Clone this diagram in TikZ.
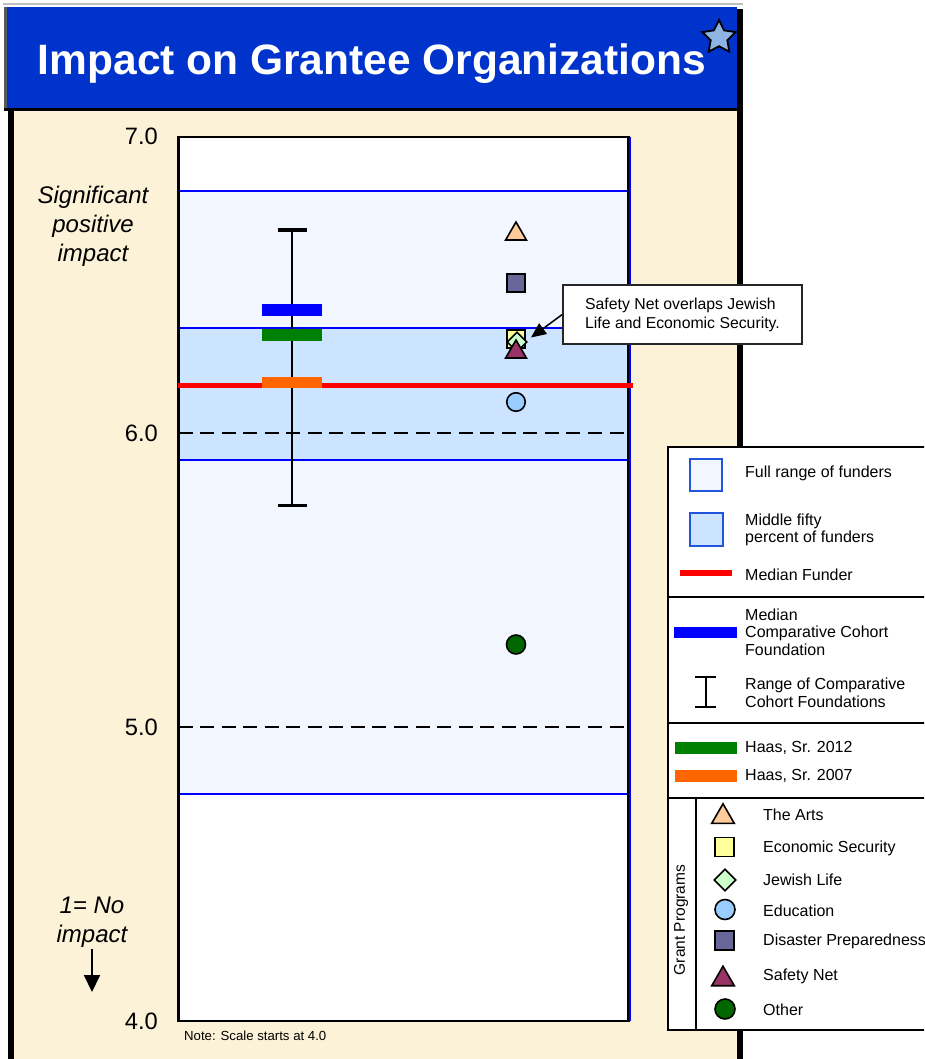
\documentclass[tikz,border=0pt]{standalone}
\usepackage{fontspec}
\setmainfont{Liberation Sans}
\usetikzlibrary{shapes.geometric,arrows.meta}
\definecolor{titleblue}{HTML}{0033CC}
\definecolor{beige}{HTML}{FCF2D8}
\definecolor{fullfill}{HTML}{F2F7FF}
\definecolor{midfill}{HTML}{CCE4FF}
\definecolor{bandblue}{HTML}{0000FF}
\definecolor{legblue}{HTML}{2255DD}
\definecolor{cgreen}{HTML}{008000}
\definecolor{corange}{HTML}{FF6600}
\definecolor{arts}{HTML}{FFCC99}
\definecolor{econ}{HTML}{FFFF99}
\definecolor{jewish}{HTML}{CCFFCC}
\definecolor{educ}{HTML}{99CCFF}
\definecolor{disaster}{HTML}{666699}
\definecolor{safety}{HTML}{993366}
\definecolor{other}{HTML}{006600}
\definecolor{starblue}{HTML}{8DB4E2}
\newcommand{\setfs}[2]{\fontsize{#1}{#2}\selectfont}
\tikzset{
  mk/.style={draw=black, line width=1.6pt, inner sep=0pt},
  tri/.style={mk, regular polygon, regular polygon sides=3, minimum size=#1},
  sq/.style={mk, rectangle, minimum size=#1},
  dia/.style={mk, diamond, minimum size=#1},
  circ/.style={mk, circle, minimum size=#1},
  barbox/.style={rectangle, draw=none, inner sep=0pt, minimum width=60pt, minimum height=11.5pt},
  legtext/.style={anchor=west, inner sep=0pt, align=left, font=\setfs{16}{17.5}},
  axlabel/.style={anchor=east, inner sep=0pt, font=\setfs{23.7}{28}},
  sidetext/.style={align=center, inner sep=0pt, font=\setfs{24}{29}\itshape},
  bandline/.style={bandblue, line width=2pt},
  gridline/.style={black, line width=2pt, dash pattern=on 14pt off 7.55pt},
  calloutbox/.style={draw=black!85, line width=1.5pt, fill=white, align=left, minimum width=239pt, minimum height=59pt, inner xsep=8pt, font=\setfs{15.8}{19}},
  legsq/.style={draw=legblue, line width=2pt, inner sep=0pt, minimum size=#1},
}
\begin{document}
\begin{tikzpicture}[x=1pt,y=-1pt]
\useasboundingbox (0,0) rectangle (924,1059);
\clip (0,0) rectangle (924,1059);
\fill[white] (0,0) rectangle (924,1059);

% ---- outer frame and title band
\fill[black!25] (3,3) rectangle (743,5);
\fill[titleblue] (5,7) rectangle (737,109);
\fill[black!65] (4,7) rectangle (6.5,110);
\fill[black] (4,108) rectangle (737,111.5);
\fill[beige] (14,111.5) rectangle (737,1059);
\fill[black] (8,111) rectangle (14,1059);
\fill[black] (737,9) rectangle (743,1059);
\node[anchor=base, inner sep=0pt, text=white, font=\setfs{42.5}{50}\bfseries] (title) at (372,75) {Impact on Grantee Organizations};
\node[star, star points=5, star point ratio=2.0, minimum size=35pt, inner sep=0pt, fill=starblue, draw=black, line width=1.8pt] (star) at (719,37.5) {};

% ---- plot area
\fill[white] (178,137) rectangle (630,1021);
\fill[fullfill] (178,191) rectangle (630,794);
\fill[midfill] (178,328) rectangle (630,460);
\draw[bandline] (178,191) -- (630,191);
\draw[bandline] (178,328) -- (630,328);
\draw[bandline] (178,460) -- (630,460);
\draw[bandline] (178,794) -- (630,794);
\draw[gridline] (178.5,433) -- (627,433);
\draw[gridline] (178.5,727) -- (627,727);
\draw[black, line width=2.5pt] (178.5,137) rectangle (628.5,1021);
\draw[bandblue, line width=2pt] (630,137) -- (630,1021);

% axis labels
\node[axlabel] (l7) at (158,136.5) {7.0};
\node[axlabel] (l6) at (158,433) {6.0};
\node[axlabel] (l5) at (158,727) {5.0};
\node[axlabel] (l4) at (158,1021) {4.0};
\node[sidetext] (sig) at (93,226) {Significant\\positive\\impact};
\node[sidetext] (noimpact) at (92,922.5) {1= No\\impact};
\coordinate (arrtop) at (92,949);
\coordinate (arrbot) at (92,992);
\draw[line width=2pt, -{Triangle[length=17pt,width=16pt]}] (arrtop) -- (arrbot);
\node[anchor=west, inner sep=0pt, font=\setfs{13.2}{15}] (scalenote) at (184,1035.5) {Note: Scale starts at 4.0};

% median funder line
\draw[red, line width=5pt] (178,385) -- (633,385);

% range of comparative cohort
\coordinate (rtop) at (292,230);
\coordinate (rbot) at (292,505.5);
\draw[black, line width=2pt] (rtop) -- (rbot);
\draw[black, line width=3.2pt] (277.5,230) -- (306.5,230);
\draw[black, line width=3.2pt] (277.5,505.5) -- (306.5,505.5);
\node[barbox, fill=bandblue] (cohortmed) at (292,310) {};
\node[barbox, fill=cgreen] (haas12) at (292,335) {};
\node[barbox, fill=corange] (haas07) at (292,382.5) {};

% grant program markers
\node[tri=24pt, fill=arts] (partsm) at (516,234) {};
\node[sq=18pt, fill=disaster] (pdis) at (516,283) {};
\node[sq=18pt, fill=econ] (pecon) at (516,339) {};
\node[dia=20pt, fill=jewish] (pjew) at (517,342) {};
\node[tri=24pt, fill=safety] (psafe) at (516,352) {};
\node[circ=18.5pt, fill=educ] (pedu) at (516,402) {};
\node[circ=19pt, fill=other] (poth) at (516,644.5) {};

% callout
\node[calloutbox] (note) at (682.5,314.5) {Safety Net overlaps Jewish\\Life and Economic Security.};
\coordinate (notetip) at (531,337.5);
\draw[black, line width=1.5pt, -{Triangle[length=15pt,width=13pt]}] (note.west) -- (notetip);

% ---- legend
\draw[black, line width=2pt, fill=white] (668,447) rectangle (940,1030);
\draw[black, line width=2pt] (668,597) -- (940,597);
\draw[black, line width=2pt] (668,722.5) -- (940,722.5);
\draw[black, line width=2pt] (668,798) -- (940,798);
\draw[black, line width=2pt] (696,798) -- (696,1030);

\node[legsq=32pt, fill=fullfill] (lfull) at (706,475) {};
\node[legtext] (tfull) at (745,473.5) {Full range of funders};
\node[legsq=33pt, fill=midfill] (lmid) at (706,529.5) {};
\node[legtext] (tmid) at (745,530) {Middle fifty\\percent of funders};
\coordinate (lreda) at (680,573);
\coordinate (lredb) at (732,573);
\draw[red, line width=6pt] (lreda) -- (lredb);
\node[legtext] (tred) at (745,574.5) {Median Funder};

\node[barbox, fill=bandblue, minimum width=63pt, minimum height=11pt] (lblue) at (705.5,632) {};
\node[legtext] (tblue) at (745,632) {Median\\Comparative Cohort\\Foundation};
\coordinate (lrtop) at (705.5,677);
\coordinate (lrbot) at (705.5,707);
\draw[black, line width=2pt] (lrtop) -- (lrbot);
\draw[black, line width=2pt] (695,677) -- (716,677);
\draw[black, line width=2pt] (695,707) -- (716,707);
\node[legtext] (trange) at (745,693) {Range of Comparative\\Cohort Foundations};

\node[barbox, fill=cgreen, minimum width=62pt, minimum height=12pt] (lgreen) at (706,747.5) {};
\node[legtext] (tgreen) at (745,747.5) {Haas, Sr. 2012};
\node[barbox, fill=corange, minimum width=62pt, minimum height=12pt] (lorange) at (706,776) {};
\node[legtext] (torange) at (745,775.5) {Haas, Sr. 2007};

\node[rotate=90, inner sep=0pt, font=\setfs{15.5}{17}] (tgp) at (681,920) {Grant Programs};
\node[tri=26pt, fill=arts] (larts) at (723,816.8) {};
\node[legtext] (tarts) at (763,815) {The Arts};
\node[sq=19pt, fill=econ] (lecon) at (724.5,847) {};
\node[legtext] (tecon) at (763,848) {Economic Security};
\node[dia=22pt, fill=jewish] (ljew) at (725,880) {};
\node[legtext] (tjew) at (763,879.5) {Jewish Life};
\node[circ=20pt, fill=educ] (ledu) at (725,909.5) {};
\node[legtext] (tedu) at (763,910.5) {Education};
\node[sq=19pt, fill=disaster] (ldis) at (724.5,940.5) {};
\node[legtext] (tdis) at (763,941.5) {Disaster Preparedness};
\node[tri=26pt, fill=safety] (lsafe) at (723,979.2) {};
\node[legtext] (tsafe) at (763,976.5) {Safety Net};
\node[circ=20pt, fill=other] (loth) at (725,1009) {};
\node[legtext] (toth) at (763,1010) {Other};
\end{tikzpicture}
\end{document}
